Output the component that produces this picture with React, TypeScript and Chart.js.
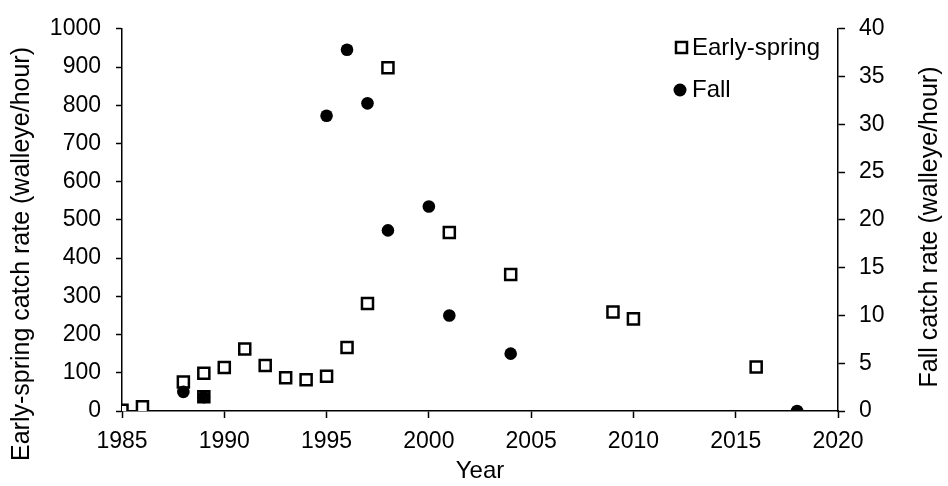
import React, { useEffect, useRef } from "react";
import { Chart, registerables } from "chart.js";

Chart.register(...registerables);

// Early-spring catch rate (walleye/hour), left axis
const springYears = [1985, 1986, 1988, 1989, 1989, 1990, 1991, 1992, 1993, 1994, 1995, 1996, 1997, 1998, 2001, 2004, 2009, 2010, 2016];
const springRates = [2, 11, 76, 99, 37, 114, 162, 119, 87, 82, 91, 166, 281, 898, 467, 357, 259, 241, 115];

// Fall catch rate (walleye/hour), right axis
const fallYears = [1988, 1989, 1995, 1996, 1997, 1998, 2000, 2001, 2004, 2018];
const fallRates = [2.0, 1.45, 30.9, 37.8, 32.2, 18.9, 21.4, 10.0, 6.0, 0];

const xTickValues = [1985, 1990, 1995, 2000, 2005, 2010, 2015, 2020];
const leftTickValues = [0, 100, 200, 300, 400, 500, 600, 700, 800, 900, 1000];
const rightTickValues = [0, 5, 10, 15, 20, 25, 30, 35, 40];

const seriesNames = ["Early-spring", "Fall"];
const axisTitles = {
  x: "Year",
  left: "Early-spring catch rate (walleye/hour)",
  right: "Fall catch rate (walleye/hour)",
};

const FONT = "'Liberation Sans', Arial, Helvetica, sans-serif";

export default function App() {
  const ref = useRef<HTMLCanvasElement | null>(null);

  useEffect(() => {
    if (!ref.current) return;

    const overlayPlugin = {
      id: "overlay",
      afterDraw(chart: any) {
        const ctx = chart.ctx;
        ctx.save();
        // legend
        ctx.font = `24px ${FONT}`;
        ctx.textBaseline = "middle";
        ctx.textAlign = "left";
        ctx.lineWidth = 2.5;
        ctx.strokeStyle = "#000";
        ctx.fillStyle = "#fff";
        ctx.beginPath();
        ctx.rect(676, 42, 11, 11);
        ctx.fill();
        ctx.stroke();
        ctx.fillStyle = "#000";
        ctx.fillText(seriesNames[0], 692, 48);
        ctx.beginPath();
        ctx.arc(680, 90, 6.5, 0, Math.PI * 2);
        ctx.fill();
        ctx.fillText(seriesNames[1], 692, 90);

        // vertical axis titles (both read bottom-to-top)
        ctx.font = `25px ${FONT}`;
        ctx.textAlign = "center";
        ctx.textBaseline = "middle";
        ctx.save();
        ctx.translate(22, 254);
        ctx.rotate(-Math.PI / 2);
        ctx.fillText(axisTitles.left, 0, 0);
        ctx.restore();
        ctx.save();
        ctx.translate(930, 227);
        ctx.rotate(-Math.PI / 2);
        ctx.fillText(axisTitles.right, 0, 0);
        ctx.restore();
        ctx.restore();
      },
    };

    const tickFont = { family: FONT, size: 23 };
    const titleFont = { family: FONT, size: 24 };
    const plain = (v: any) => String(v);

    const chart = new Chart(ref.current, {
      type: "scatter",
      data: {
        datasets: [
          {
            label: seriesNames[0],
            data: springYears.map((x, i) => ({ x, y: springRates[i] })),
            yAxisID: "y",
            pointStyle: "rect",
            pointRadius: 7.8,
            pointBackgroundColor: "#fff",
            pointBorderColor: "#000",
            pointBorderWidth: 2.5,
            order: 2,
          },
          {
            label: seriesNames[1],
            data: fallYears.map((x, i) => ({ x, y: fallRates[i] })),
            yAxisID: "y2",
            pointStyle: "circle",
            pointRadius: 6.3,
            pointBackgroundColor: "#000",
            pointBorderColor: "#000",
            pointBorderWidth: 0,
            order: 1,
          },
        ],
      },
      options: {
        responsive: false,
        animation: false,
        layout: { padding: { top: 20, left: 0, right: 0, bottom: 0 } },
        plugins: {
          legend: { display: false },
          tooltip: { enabled: false },
          title: { display: false },
        },
        scales: {
          x: {
            type: "linear",
            min: 1985,
            max: 2020,
            afterBuildTicks: (s: any) => {
              s.ticks = xTickValues.map((v) => ({ value: v }));
            },
            afterFit: (s: any) => {
              s.height = 75;
            },
            grid: { drawOnChartArea: false, tickLength: 7, tickColor: "#000", tickWidth: 1.5 },
            border: { display: true, color: "#000", width: 1.5 },
            ticks: { color: "#000", font: tickFont, padding: 10, maxRotation: 0, autoSkip: false, callback: plain },
            title: { display: true, text: axisTitles.x, color: "#000", font: titleFont, padding: { top: 2, bottom: 0 } },
          },
          y: {
            position: "left",
            min: 0,
            max: 1000,
            afterBuildTicks: (s: any) => {
              s.ticks = leftTickValues.map((v) => ({ value: v }));
            },
            afterFit: (s: any) => {
              s.width = 122;
            },
            grid: { drawOnChartArea: false, tickLength: 6, tickColor: "#000", tickWidth: 1.5 },
            border: { display: true, color: "#000", width: 1.5 },
            ticks: { color: "#000", font: tickFont, padding: 15, autoSkip: false, callback: plain },
            title: { display: false },
          },
          y2: {
            position: "right",
            min: 0,
            max: 40,
            afterBuildTicks: (s: any) => {
              s.ticks = rightTickValues.map((v) => ({ value: v }));
            },
            afterFit: (s: any) => {
              s.width = 110;
            },
            grid: { drawOnChartArea: false, tickLength: 7, tickColor: "#000", tickWidth: 1.5 },
            border: { display: true, color: "#000", width: 1.5 },
            ticks: { color: "#000", font: tickFont, padding: 14, autoSkip: false, callback: plain },
            title: { display: false },
          },
        },
      },
      plugins: [overlayPlugin],
    } as any);

    return () => chart.destroy();
  }, []);

  return (
    <div style={{ position: "fixed", left: 0, top: 0, width: 948, height: 486, background: "#fff" }}>
      <canvas ref={ref} width={948} height={486} style={{ display: "block", width: 948, height: 486 }} />
    </div>
  );
}
